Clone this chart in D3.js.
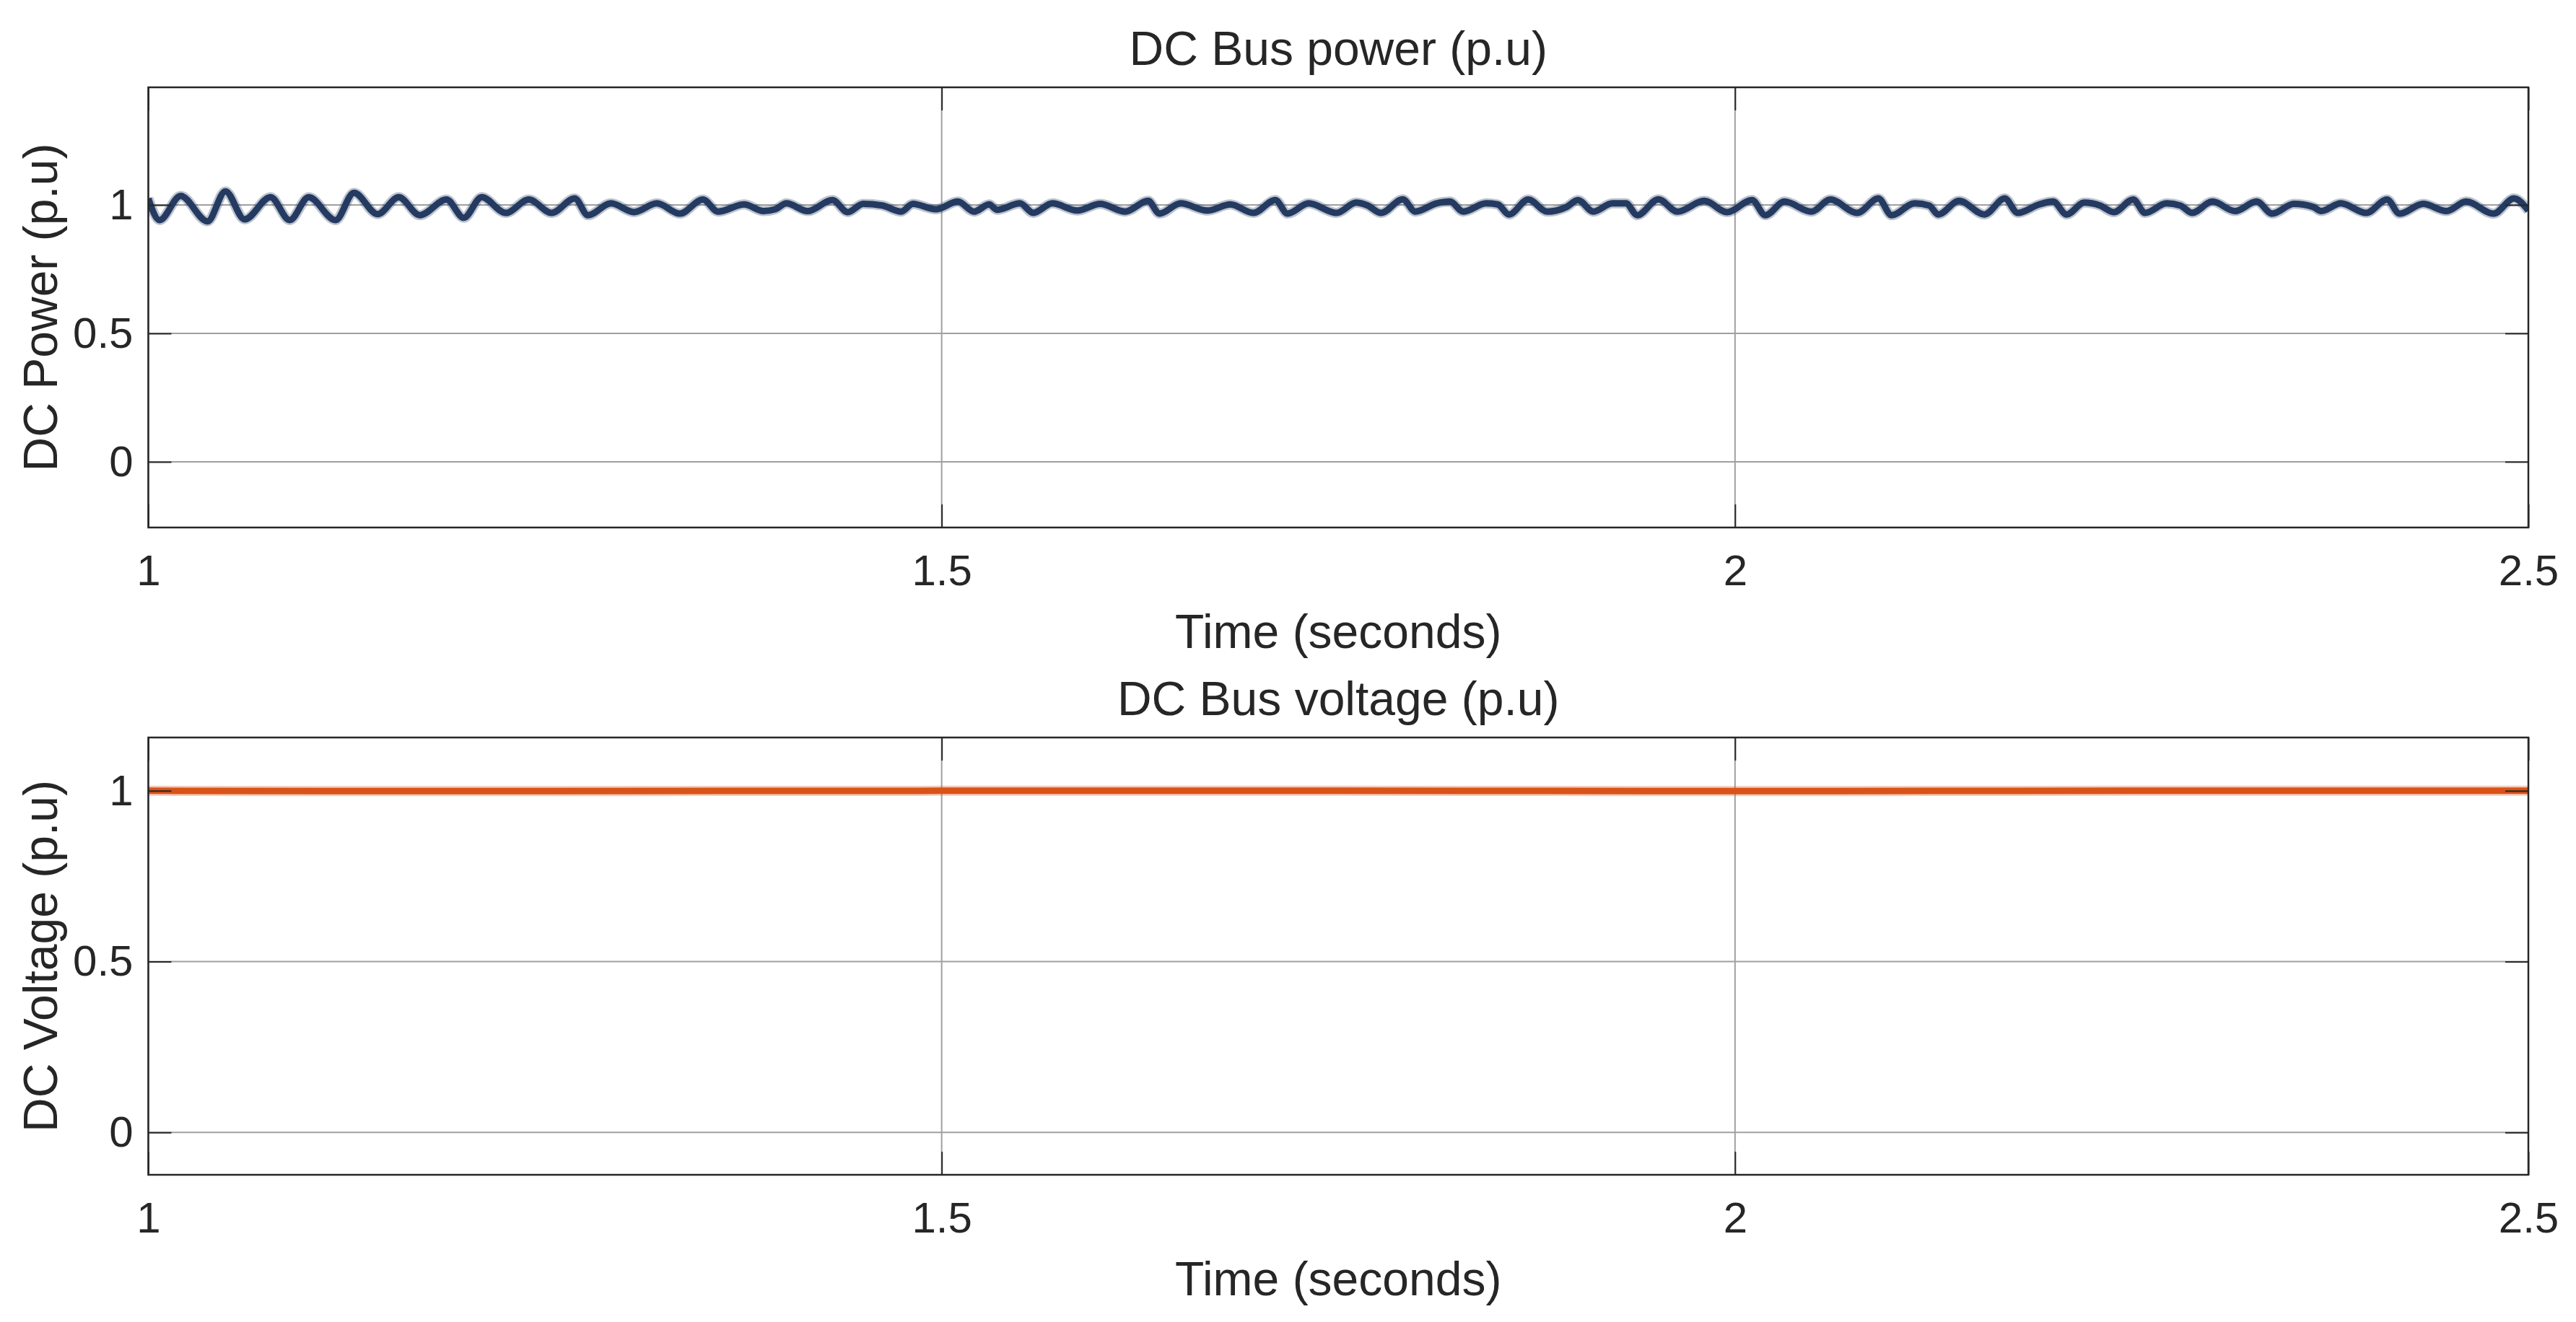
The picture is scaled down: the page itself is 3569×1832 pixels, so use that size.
<!DOCTYPE html>
<html>
<head>
<meta charset="utf-8">
<script src="https://cdn.jsdelivr.net/npm/d3@7"></script>
<style>
  html, body { margin: 0; padding: 0; background: #fff; }
  svg { display: block; font-family: "Liberation Sans", Arial, Helvetica, sans-serif; }
  .tick text { fill: #262626; }
</style>
</head>
<body>
<div id="chart"></div>
<script>
// ---- data ----
var xTicks = [1, 1.5, 2, 2.5];
var yTicks = [0, 0.5, 1];

// DC bus power: peaks / troughs of the oscillation (time s, p.u)
var powerTime = [
  1.0000, 1.0071, 1.0204, 1.0373, 1.0486, 1.0607, 1.0770, 1.0891, 1.1011, 1.1180,
  1.1296, 1.1445, 1.1578, 1.1711, 1.1879, 1.1988, 1.2101, 1.2253, 1.2398, 1.2542,
  1.2687, 1.2771, 1.2916, 1.3061, 1.3205, 1.3350, 1.3495, 1.3591, 1.3755, 1.3878,
  1.3950, 1.4022, 1.4155, 1.4311, 1.4408, 1.4505, 1.4625, 1.4745, 1.4818, 1.4963,
  1.5102, 1.5204, 1.5300, 1.5348, 1.5493, 1.5577, 1.5698, 1.5855, 1.5999, 1.6156,
  1.6301, 1.6373, 1.6506, 1.6674, 1.6819, 1.6964, 1.7103, 1.7180, 1.7313, 1.7489,
  1.7612, 1.7684, 1.7769, 1.7906, 1.7985, 1.8118, 1.8203, 1.8287, 1.8431, 1.8504,
  1.8576, 1.8697, 1.8817, 1.8938, 1.9010, 1.9107, 1.9227, 1.9312, 1.9384, 1.9517,
  1.9637, 1.9806, 1.9950, 2.0107, 2.0191, 2.0312, 2.0481, 2.0601, 2.0770, 2.0903,
  2.0987, 2.1132, 2.1223, 2.1281, 2.1412, 2.1572, 2.1700, 2.1782, 2.1918, 2.2004,
  2.2090, 2.2201, 2.2300, 2.2387, 2.2510, 2.2584, 2.2720, 2.2806, 2.2880, 2.3009,
  2.3152, 2.3287, 2.3386, 2.3522, 2.3645, 2.3694, 2.3818, 2.3979, 2.4109, 2.4188,
  2.4337, 2.4485, 2.4608, 2.4781, 2.4909, 2.5000
];
var powerValue = [
  1.025, 0.941, 1.035, 0.936, 1.053, 0.944, 1.030, 0.941, 1.030, 0.941,
  1.047, 0.964, 1.030, 0.960, 1.021, 0.950, 1.030, 0.969, 1.021, 0.969,
  1.025, 0.960, 1.006, 0.972, 1.006, 0.966, 1.021, 0.974, 1.002, 0.976,
  0.983, 1.006, 0.976, 1.019, 0.972, 1.004, 0.998, 0.974, 1.004, 0.983,
  1.013, 0.974, 1.002, 0.981, 1.006, 0.969, 1.006, 0.978, 1.004, 0.974,
  1.016, 0.966, 1.006, 0.978, 1.002, 0.969, 1.019, 0.966, 1.006, 0.969,
  1.009, 0.998, 0.969, 1.022, 0.974, 1.006, 1.013, 0.974, 1.006, 1.002,
  0.963, 1.021, 0.974, 0.992, 1.019, 0.974, 1.006, 1.006, 0.960, 1.022,
  0.974, 1.016, 0.972, 1.019, 0.960, 1.013, 0.974, 1.021, 0.969, 1.025,
  0.960, 1.006, 0.998, 0.963, 1.016, 0.963, 1.025, 0.969, 1.002, 1.013,
  0.963, 1.009, 0.998, 0.972, 1.021, 0.969, 1.006, 0.998, 0.969, 1.013,
  0.976, 1.013, 0.966, 1.004, 0.992, 0.976, 1.006, 0.969, 1.021, 0.966,
  1.004, 0.976, 1.013, 0.966, 1.025, 0.978
];

// DC bus voltage: flat at 1 p.u.
var voltageTime = [1.0, 1.25, 1.5, 1.75, 2.0, 2.25, 2.5];
var voltageValue = [1.0, 0.999, 1.0, 1.0, 0.999, 1.0, 1.0];

var W = 3569, H = 1832;
var svg = d3.select("#chart").append("svg")
  .attr("width", W).attr("height", H);
svg.append("rect").attr("width", W).attr("height", H).attr("fill", "#fff");

var left = 205.5, right = 3503;
var tickFont = 60, labelFont = 66;
var ink = "#262626";

var panels = [
  { top: 121, bottom: 731, yDomain: [-0.256, 1.458], title: "DC Bus power (p.u)",
    ylabel: "DC Power (p.u)", t: powerTime, v: powerValue, color: "#243a61", id: "p" },
  { top: 1022, bottom: 1628, yDomain: [-0.124, 1.156], title: "DC Bus voltage (p.u)",
    ylabel: "DC Voltage (p.u)", t: voltageTime, v: voltageValue, color: "#d95319", id: "v" }
];

var x = d3.scaleLinear().domain([1, 2.5]).range([left, right]);

panels.forEach(function(p) {
  var y = d3.scaleLinear().domain(p.yDomain).range([p.bottom, p.top]);
  var g = svg.append("g");
  var h = p.bottom - p.top;

  // grid
  g.append("g").selectAll("line").data(yTicks).enter().append("line")
    .attr("x1", left).attr("x2", right)
    .attr("y1", function(d) { return y(d); }).attr("y2", function(d) { return y(d); })
    .attr("stroke", "#a0a0a0").attr("stroke-width", 2);
  g.append("g").selectAll("line").data(xTicks).enter().append("line")
    .attr("x1", function(d) { return x(d); }).attr("x2", function(d) { return x(d); })
    .attr("y1", p.top).attr("y2", p.bottom)
    .attr("stroke", "#a0a0a0").attr("stroke-width", 2);

  // data line
  var clipId = "clip-" + p.id;
  svg.append("clipPath").attr("id", clipId).append("rect")
    .attr("x", left).attr("y", p.top).attr("width", right - left).attr("height", h);
  var line = d3.line()
    .x(function(d, i) { return x(p.t[i]); })
    .y(function(d) { return y(d); })
    .curve(d3.curveMonotoneX);
  var lg = g.append("g").attr("clip-path", "url(#" + clipId + ")");
  lg.append("path").attr("d", line(p.v))
    .attr("fill", "none").attr("stroke", p.color).attr("stroke-opacity", 0.3)
    .attr("stroke-width", 14).attr("stroke-linejoin", "round");
  lg.append("path").attr("d", line(p.v))
    .attr("fill", "none").attr("stroke", p.color)
    .attr("stroke-width", 9).attr("stroke-linejoin", "round");

  // axes (inside ticks, box)
  var tl = 32;
  g.append("g").attr("transform", "translate(0," + p.bottom + ")")
    .call(d3.axisBottom(x).tickValues(xTicks).tickSize(-tl).tickPadding(37)
      .tickFormat(d3.format("")))
    .call(function(a) {
      a.select(".domain").remove();
      a.selectAll(".tick line").attr("stroke", ink).attr("stroke-width", 2);
      a.selectAll(".tick text").attr("font-size", tickFont).attr("font-family", null);
    });
  g.append("g").attr("transform", "translate(0," + p.top + ")")
    .call(d3.axisTop(x).tickValues(xTicks).tickSize(-tl).tickFormat(""))
    .call(function(a) {
      a.select(".domain").remove();
      a.selectAll(".tick line").attr("stroke", ink).attr("stroke-width", 2);
    });
  g.append("g").attr("transform", "translate(" + left + ",0)")
    .call(d3.axisLeft(y).tickValues(yTicks).tickSize(-tl).tickPadding(21)
      .tickFormat(d3.format("")))
    .call(function(a) {
      a.select(".domain").remove();
      a.selectAll(".tick line").attr("stroke", ink).attr("stroke-width", 2);
      a.selectAll(".tick text").attr("font-size", tickFont).attr("font-family", null);
    });
  g.append("g").attr("transform", "translate(" + right + ",0)")
    .call(d3.axisRight(y).tickValues(yTicks).tickSize(-tl).tickFormat(""))
    .call(function(a) {
      a.select(".domain").remove();
      a.selectAll(".tick line").attr("stroke", ink).attr("stroke-width", 2);
    });
  g.append("rect").attr("x", left).attr("y", p.top)
    .attr("width", right - left).attr("height", h)
    .attr("fill", "none").attr("stroke", ink).attr("stroke-width", 2.5);

  // texts
  g.append("text").attr("x", (left + right) / 2).attr("y", p.top - 31)
    .attr("text-anchor", "middle").attr("font-size", labelFont).attr("fill", ink)
    .text(p.title);
  g.append("text").attr("x", (left + right) / 2).attr("y", p.bottom + 167)
    .attr("text-anchor", "middle").attr("font-size", labelFont).attr("fill", ink)
    .text("Time (seconds)");
  g.append("text")
    .attr("transform", "translate(79," + ((p.top + p.bottom) / 2) + ") rotate(-90)")
    .attr("text-anchor", "middle").attr("font-size", labelFont).attr("fill", ink)
    .text(p.ylabel);
});
</script>
</body>
</html>
